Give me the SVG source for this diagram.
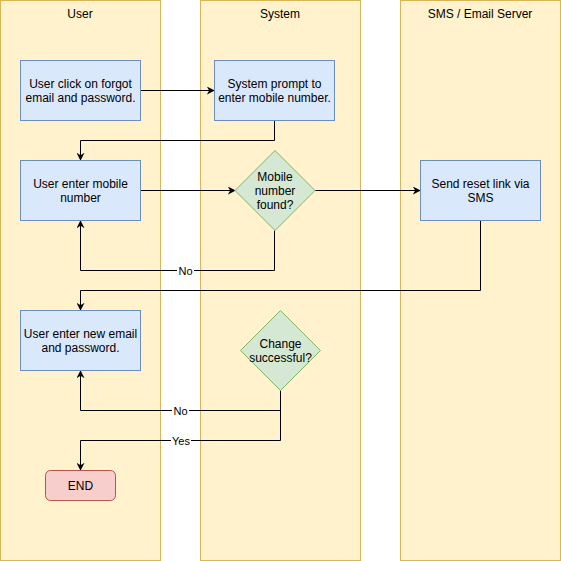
<svg xmlns="http://www.w3.org/2000/svg" width="561" height="561" viewBox="0 0 561 561">
<style>
.lane{fill:#fff2cc;stroke:#d6b656;stroke-width:1}
.proc{fill:#dae8fc;stroke:#6c8ebf;stroke-width:1}
.dec{fill:#d5e8d4;stroke:#82b366;stroke-width:1}
.end{fill:#f8cecc;stroke:#b85450;stroke-width:1}
text{font-family:"Liberation Sans",Arial,Helvetica,sans-serif;font-size:12px;fill:#000;text-anchor:middle}
.edge{fill:none;stroke:#000;stroke-width:1;marker-end:url(#arr)}
.lbl{fill:#fff}
.lt{font-size:11px}
</style>
<defs>
<marker id="arr" viewBox="0 0 10 10" refX="9" refY="5" markerWidth="8" markerHeight="8" markerUnits="userSpaceOnUse" orient="auto">
<path d="M0,0 L10,5 L0,10 L3,5 Z" fill="#000"/>
</marker>
</defs>
<rect width="561" height="561" fill="#fff"/>
<g id="lane-user"><rect class="lane" x="0.5" y="0.5" width="160" height="560"/><text x="80" y="18">User</text></g>
<g id="lane-system"><rect class="lane" x="200.5" y="0.5" width="160" height="560"/><text x="280" y="18">System</text></g>
<g id="lane-sms"><rect class="lane" x="400.5" y="0.5" width="160" height="560"/><text x="480" y="18">SMS / Email Server</text></g>
<g id="connectors">
<path class="edge" d="M140.5,90.5 H214"/>
<path class="edge" d="M274.5,120.5 V140.5 H80.5 V160"/>
<path class="edge" d="M140.5,190.5 H235"/>
<path class="edge" d="M274.5,230.5 V270.5 H80.5 V221"/>
<path class="edge" d="M315,190.5 H420"/>
<path class="edge" d="M480.5,220.5 V290.5 H80.5 V310"/>
<path class="edge" d="M280.5,390.5 V410.5 H80.5 V371"/>
<path class="edge" d="M280.5,390.5 V440.5 H80.5 V470"/>
<rect class="lbl" x="177" y="263" width="17" height="14"/><text class="lt" x="185.5" y="274.5">No</text>
<rect class="lbl" x="172" y="403" width="17" height="14"/><text class="lt" x="180.5" y="414.5">No</text>
<rect class="lbl" x="171" y="434" width="20" height="14"/><text class="lt" x="181" y="445">Yes</text>
</g>
<g id="n1"><rect class="proc" x="20.5" y="60.5" width="120" height="60"/><text x="80.5" y="88">User click on forgot</text><text x="80.5" y="102">email and password.</text></g>
<g id="n2"><rect class="proc" x="214.5" y="60.5" width="120" height="60"/><text x="274.5" y="88">System prompt to</text><text x="274.5" y="102">enter mobile number.</text></g>
<g id="n3"><rect class="proc" x="20.5" y="160.5" width="120" height="60"/><text x="80.5" y="188">User enter mobile</text><text x="80.5" y="202">number</text></g>
<g id="n4"><path class="dec" d="M275,150.5 L315,190.5 L275,230.5 L235,190.5 Z"/><text x="275" y="181">Mobile</text><text x="275" y="195">number</text><text x="275" y="209">found?</text></g>
<g id="n5"><rect class="proc" x="420.5" y="160.5" width="120" height="60"/><text x="480.5" y="188">Send reset link via</text><text x="480.5" y="202">SMS</text></g>
<g id="n6"><rect class="proc" x="20.5" y="310.5" width="120" height="60"/><text x="80.5" y="338">User enter new email</text><text x="80.5" y="352">and password.</text></g>
<g id="n7"><path class="dec" d="M280.5,310.5 L320.5,350.5 L280.5,390.5 L240.5,350.5 Z"/><text x="280.5" y="348">Change</text><text x="280.5" y="362">successful?</text></g>
<g id="n8"><rect class="end" x="45.5" y="470.5" width="70" height="30" rx="5"/><text x="80.5" y="490">END</text></g>
</svg>
